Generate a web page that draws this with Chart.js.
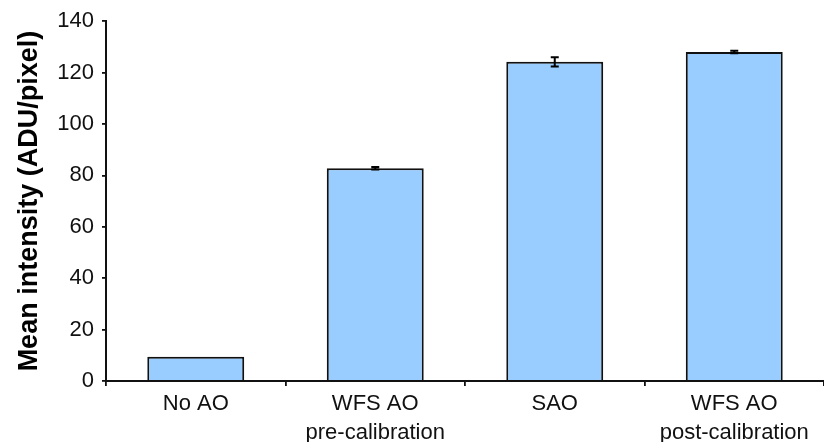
<!DOCTYPE html>
<html>
<head>
<meta charset="utf-8">
<script src="https://cdn.jsdelivr.net/npm/chart.js@4/dist/chart.umd.min.js"></script>
<style>
  html, body { margin: 0; padding: 0; background: #fff; }
  #wrap { width: 824px; height: 442px; }
</style>
</head>
<body>
<div id="wrap"><canvas id="c" width="824" height="442"></canvas></div>
<script>
const categories = [['No AO'], ['WFS AO', 'pre-calibration'], ['SAO'], ['WFS AO', 'post-calibration']];
const meanIntensity = [9.4, 82.8, 124.2, 128.0];
const errorValues = [0, 0.5, 1.8, 0.5];
const yTicks = [0, 20, 40, 60, 80, 100, 120, 140];
const yTitle = 'Mean intensity (ADU/pixel)';

const FONT = "'Liberation Sans', Arial, Helvetica, sans-serif";

const errorBarPlugin = {
  id: 'errorBars',
  afterDatasetsDraw(chart) {
    const ctx = chart.ctx;
    const meta = chart.getDatasetMeta(0);
    const y = chart.scales.y;
    ctx.save();
    ctx.strokeStyle = '#000';
    ctx.lineWidth = 2;
    meta.data.forEach((bar, i) => {
      const e = errorValues[i];
      if (!e) return;
      const v = meanIntensity[i];
      const yTop = y.getPixelForValue(v + e);
      const yBot = y.getPixelForValue(v - e);
      const x = bar.x;
      const cap = 4;
      ctx.beginPath();
      ctx.moveTo(x, yTop); ctx.lineTo(x, yBot);
      ctx.moveTo(x - cap, yTop); ctx.lineTo(x + cap, yTop);
      ctx.moveTo(x - cap, yBot); ctx.lineTo(x + cap, yBot);
      ctx.stroke();
    });
    ctx.restore();
  }
};

new Chart(document.getElementById('c'), {
  type: 'bar',
  data: {
    labels: categories,
    datasets: [{
      data: meanIntensity,
      backgroundColor: '#99CCFF',
      borderColor: '#111',
      borderWidth: 2,
      borderSkipped: 'bottom',
      barPercentage: 0.54,
      categoryPercentage: 1.0
    }]
  },
  options: {
    responsive: false,
    animation: false,
    devicePixelRatio: 1,
    layout: { padding: { top: 19, right: 0, left: 0, bottom: 0 } },
    plugins: { legend: { display: false }, tooltip: { enabled: false } },
    scales: {
      x: {
        offset: true,
        grid: { display: true, drawOnChartArea: false, offset: true, tickLength: 5, color: '#111', lineWidth: 1.8 },
        border: { display: true, color: '#111', width: 2 },
        ticks: {
          color: '#111',
          font: { family: FONT, size: 22, lineHeight: 1.29 },
          padding: 4,
          maxRotation: 0,
          autoSkip: false
        },
        afterFit(scale) { scale.height = 61; }
      },
      y: {
        min: 0,
        max: 140,
        afterBuildTicks(scale) { scale.ticks = yTicks.map(v => ({ value: v })); },
        grid: { display: true, drawOnChartArea: false, tickLength: 4, color: '#111', lineWidth: 1.8 },
        border: { display: true, color: '#111', width: 2 },
        ticks: {
          color: '#111',
          font: { family: FONT, size: 22 },
          padding: 8
        },
        title: {
          display: true,
          text: yTitle,
          color: '#000',
          font: { family: FONT, size: 27, weight: 'bold' },
          padding: { top: 13, bottom: 0 }
        },
        afterFit(scale) { scale.width = 106; }
      }
    }
  },
  plugins: [errorBarPlugin]
});
</script>
</body>
</html>
